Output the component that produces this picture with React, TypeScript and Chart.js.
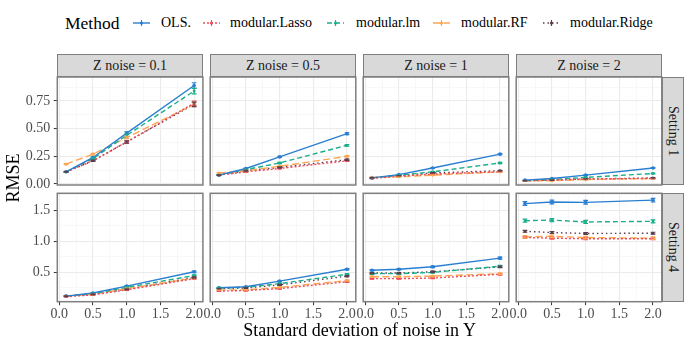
import React, { useEffect, useRef } from 'react';
import { Chart, registerables } from 'chart.js';
Chart.register(...registerables);

const FONT = '"Liberation Serif", "DejaVu Serif", serif';

// ---------- data ----------
const xValues = [0.1, 0.5, 1.0, 2.0];
const zNoiseLabels = ['Z noise = 0.1', 'Z noise = 0.5', 'Z noise = 1', 'Z noise = 2'];
const settingLabels = ['Setting 1', 'Setting 4'];
const methodNames = ['OLS.', 'modular.Lasso', 'modular.lm', 'modular.RF', 'modular.Ridge'];
const xTickLabels = ['0.0', '0.5', '1.0', '1.5', '2.0'];
const yTickLabelsRow1 = ['0.00', '0.25', '0.50', '0.75'];
const yTickLabelsRow2 = ['0.5', '1.0', '1.5'];

// RMSE values: [setting][zNoise][x]
const rmseOLS = [
  [[0.11, 0.24, 0.46, 0.89], [0.08, 0.14, 0.245, 0.455], [0.055, 0.085, 0.145, 0.27], [0.035, 0.05, 0.08, 0.145]],
  [[0.12, 0.17, 0.28, 0.51], [0.255, 0.27, 0.36, 0.55], [0.535, 0.55, 0.59, 0.73], [1.605, 1.63, 1.625, 1.66]],
];
const rmseLasso = [
  [[0.11, 0.21, 0.38, 0.73], [0.08, 0.11, 0.14, 0.21], [0.05, 0.07, 0.09, 0.11], [0.03, 0.035, 0.045, 0.05]],
  [[0.11, 0.14, 0.22, 0.40], [0.20, 0.21, 0.24, 0.35], [0.40, 0.40, 0.41, 0.47], [1.06, 1.05, 1.04, 1.04]],
];
const rmseLm = [
  [[0.11, 0.23, 0.44, 0.84], [0.08, 0.13, 0.19, 0.35], [0.055, 0.08, 0.11, 0.19], [0.03, 0.04, 0.06, 0.095]],
  [[0.12, 0.16, 0.26, 0.45], [0.25, 0.26, 0.32, 0.47], [0.48, 0.48, 0.50, 0.60], [1.33, 1.34, 1.31, 1.32]],
];
const rmseRF = [
  [[0.18, 0.27, 0.42, 0.72], [0.10, 0.12, 0.16, 0.25], [0.06, 0.065, 0.08, 0.11], [0.03, 0.03, 0.04, 0.05]],
  [[0.12, 0.15, 0.24, 0.41], [0.22, 0.22, 0.26, 0.37], [0.43, 0.43, 0.44, 0.48], [1.07, 1.08, 1.06, 1.05]],
];
const rmseRidge = [
  [[0.11, 0.21, 0.38, 0.72], [0.08, 0.12, 0.15, 0.22], [0.055, 0.075, 0.10, 0.12], [0.03, 0.035, 0.045, 0.055]],
  [[0.12, 0.15, 0.23, 0.42], [0.24, 0.25, 0.30, 0.44], [0.49, 0.49, 0.51, 0.59], [1.16, 1.14, 1.125, 1.13]],
];

// error bar half-widths: [setting][zNoise][x]
const errOLS = [
  [[0.003, 0.006, 0.012, 0.025], [0.002, 0.003, 0.005, 0.008], [0.002, 0.003, 0.004, 0.005], [0.001, 0.002, 0.003, 0.004]],
  [[0.004, 0.005, 0.008, 0.012], [0.006, 0.006, 0.008, 0.01], [0.01, 0.01, 0.012, 0.015], [0.03, 0.03, 0.03, 0.03]],
];
const errLasso = [
  [[0.003, 0.005, 0.01, 0.02], [0.002, 0.003, 0.004, 0.006], [0.002, 0.002, 0.003, 0.004], [0.001, 0.002, 0.002, 0.003]],
  [[0.004, 0.005, 0.007, 0.01], [0.005, 0.005, 0.007, 0.009], [0.009, 0.009, 0.01, 0.012], [0.015, 0.015, 0.015, 0.015]],
];
const errLm = [
  [[0.003, 0.006, 0.012, 0.025], [0.002, 0.003, 0.005, 0.007], [0.002, 0.002, 0.003, 0.005], [0.001, 0.002, 0.003, 0.004]],
  [[0.004, 0.005, 0.008, 0.011], [0.006, 0.006, 0.008, 0.01], [0.01, 0.01, 0.011, 0.014], [0.025, 0.025, 0.025, 0.025]],
];
const errRF = [
  [[0.004, 0.006, 0.01, 0.02], [0.002, 0.003, 0.004, 0.006], [0.002, 0.002, 0.003, 0.004], [0.001, 0.002, 0.002, 0.003]],
  [[0.004, 0.005, 0.007, 0.01], [0.005, 0.005, 0.007, 0.009], [0.009, 0.009, 0.01, 0.012], [0.02, 0.02, 0.02, 0.02]],
];
const errRidge = [
  [[0.003, 0.005, 0.01, 0.02], [0.002, 0.003, 0.004, 0.006], [0.002, 0.002, 0.003, 0.004], [0.001, 0.002, 0.002, 0.003]],
  [[0.004, 0.005, 0.007, 0.01], [0.005, 0.005, 0.007, 0.009], [0.009, 0.009, 0.01, 0.012], [0.015, 0.015, 0.015, 0.015]],
];

const methodValues = [rmseOLS, rmseLasso, rmseLm, rmseRF, rmseRidge];
const methodErrors = [errOLS, errLasso, errLm, errRF, errRidge];

// ---------- styles ----------
const methodColors = ['#2A7FD0', '#EE4D5E', '#1AAE8A', '#FCA652', '#5B3E4E'];
const methodDash: number[][] = [[], [2, 2], [5, 3], [7, 3.5], [1.5, 3]];
const methodShapes = ['circle', 'triangle', 'rect', 'rectRot', 'rect'];

// panel geometry (pixels in the 692x346 page)
const W = 692;
const H = 346;
const colLeft = [57.3, 210.2, 363.2, 516.2];
const colWidth = 145.6;
const rowTop = [77, 193.3];
const rowHeight = [108, 108.4];
const stripTop = 54;
const stripH = 23;
const rightStripW = 22.5;
const xAxisH = 30;

const xRange = { min: -0.03, max: 2.13 };
const yRanges = [
  { min: -0.009, max: 0.967 },
  { min: 0.03, max: 1.77 },
];
const xMajors = [0, 0.5, 1, 1.5, 2];
const xMinors = [0.25, 0.75, 1.25, 1.75];
const yMajorsRows = [[0, 0.25, 0.5, 0.75], [0.5, 1.0, 1.5]];
const yMinorsRows = [[0.125, 0.375, 0.625, 0.875], [0.25, 0.75, 1.25, 1.75]];
const yLabelsRows = [yTickLabelsRow1, yTickLabelsRow2];

const BORDER = '#7F7F7F';

const errorBarPlugin = {
  id: 'errbars',
  afterDatasetsDraw(chart: any) {
    const ctx = chart.ctx;
    const xs = chart.scales.x;
    const ys = chart.scales.y;
    const area = chart.chartArea;
    ctx.save();
    ctx.beginPath();
    ctx.rect(area.left, area.top, area.right - area.left, area.bottom - area.top);
    ctx.clip();
    chart.data.datasets.forEach((ds: any) => {
      ctx.strokeStyle = ds.borderColor;
      ctx.lineWidth = 1.2;
      ctx.setLineDash([]);
      ds.data.forEach((p: any, i: number) => {
        const e = ds.errors[i];
        const px = xs.getPixelForValue(p.x);
        const x0 = xs.getPixelForValue(p.x - 0.035);
        const x1 = xs.getPixelForValue(p.x + 0.035);
        const yt = ys.getPixelForValue(p.y + e);
        const yb = ys.getPixelForValue(p.y - e);
        ctx.beginPath();
        ctx.moveTo(px, yt);
        ctx.lineTo(px, yb);
        ctx.moveTo(x0, yt);
        ctx.lineTo(x1, yt);
        ctx.moveTo(x0, yb);
        ctx.lineTo(x1, yb);
        ctx.stroke();
      });
    });
    ctx.restore();
  },
  afterDraw(chart: any) {
    const ctx = chart.ctx;
    const a = chart.chartArea;
    ctx.save();
    ctx.strokeStyle = BORDER;
    ctx.lineWidth = 1.5;
    ctx.strokeRect(a.left, a.top, a.right - a.left, a.bottom - a.top);
    ctx.restore();
  },
};

function Panel({ row, col }: { row: number; col: number }) {
  const ref = useRef<HTMLCanvasElement>(null);
  useEffect(() => {
    const showY = col === 0;
    const showX = row === 1;
    const L = colLeft[col];
    const R = colLeft[col] + colWidth;
    const T = rowTop[row];
    const B = rowTop[row] + rowHeight[row];
    const yMajors = yMajorsRows[row];
    const yMinors = yMinorsRows[row];
    const yLabels = yLabelsRows[row];

    const datasets = methodNames.map((name, m) => ({
      label: name,
      data: xValues.map((x, i) => ({ x, y: methodValues[m][row][col][i] })),
      errors: methodErrors[m][row][col],
      borderColor: methodColors[m],
      backgroundColor: methodColors[m],
      borderWidth: 1.4,
      borderDash: methodDash[m],
      pointRadius: 1.8,
      pointStyle: methodShapes[m],
      pointBorderWidth: 0,
      pointBackgroundColor: methodColors[m],
      tension: 0,
      fill: false,
    }));

    const gridColor = (majors: number[]) => (c: any) =>
      c.tick && majors.includes(c.tick.value) ? '#EBEBEB' : '#F3F3F3';
    const gridWidth = (majors: number[]) => (c: any) =>
      c.tick && majors.includes(c.tick.value) ? 1.1 : 0.6;
    const tickColor = (majors: number[]) => (c: any) =>
      c.tick && majors.includes(c.tick.value) ? '#333333' : 'rgba(0,0,0,0)';

    const chart = new Chart(ref.current as HTMLCanvasElement, {
      type: 'line',
      data: { datasets } as any,
      plugins: [errorBarPlugin],
      options: {
        animation: false,
        responsive: false,
        devicePixelRatio: 1,
        events: [],
        layout: {
          padding: {
            left: showY ? 0 : L,
            right: W - R,
            top: T,
            bottom: showX ? H - B - xAxisH : H - B,
          },
        },
        plugins: { legend: { display: false }, tooltip: { enabled: false }, title: { display: false } },
        scales: {
          x: {
            type: 'linear',
            min: xRange.min,
            max: xRange.max,
            afterBuildTicks: (s: any) => {
              s.ticks = [...xMajors, ...xMinors].sort((a, b) => a - b).map((v) => ({ value: v }));
            },
            afterFit: (s: any) => {
              s.height = showX ? xAxisH : 0;
            },
            border: { display: false },
            grid: {
              color: gridColor(xMajors),
              lineWidth: gridWidth(xMajors),
              drawTicks: showX,
              tickLength: 3.5,
              tickColor: tickColor(xMajors),
              tickWidth: 1,
            },
            ticks: {
              display: showX,
              autoSkip: false,
              maxRotation: 0,
              padding: 1,
              color: '#4D4D4D',
              font: { family: FONT, size: 14 },
              callback: (v: any) => {
                const k = xMajors.indexOf(v);
                return k >= 0 ? xTickLabels[k] : '';
              },
            },
          },
          y: {
            type: 'linear',
            min: yRanges[row].min,
            max: yRanges[row].max,
            afterBuildTicks: (s: any) => {
              s.ticks = [...yMajors, ...yMinors].sort((a, b) => a - b).map((v) => ({ value: v }));
            },
            afterFit: (s: any) => {
              s.width = showY ? L : 0;
            },
            border: { display: false },
            grid: {
              color: gridColor(yMajors),
              lineWidth: gridWidth(yMajors),
              drawTicks: showY,
              tickLength: 3.5,
              tickColor: tickColor(yMajors),
              tickWidth: 1,
            },
            ticks: {
              display: showY,
              autoSkip: false,
              padding: 3.5,
              color: '#4D4D4D',
              font: { family: FONT, size: 14 },
              callback: (v: any) => {
                const k = yMajors.indexOf(v);
                return k >= 0 ? yLabels[k] : '';
              },
            },
          },
        },
      } as any,
    });
    return () => chart.destroy();
  }, [row, col]);
  return (
    <canvas
      ref={ref}
      width={W}
      height={H}
      style={{ position: 'absolute', left: 0, top: 0, width: W, height: H }}
    />
  );
}

const legendLayout = { titleX: 65, keyX: [133, 203, 327, 433, 543], textX: [161, 230, 356, 461, 570], y: 23 };

function LegendKey({ m }: { m: number }) {
  const c = methodColors[m];
  return (
    <svg width={17} height={12} style={{ position: 'absolute', left: legendLayout.keyX[m], top: legendLayout.y - 6 }}>
      <line x1={0} y1={6} x2={17} y2={6} stroke={c} strokeWidth={1.4} strokeDasharray={methodDash[m].join(' ')} />
      <line x1={8.5} y1={3} x2={8.5} y2={9} stroke={c} strokeWidth={1.1} />
      <circle cx={8.5} cy={6} r={1.6} fill={c} />
    </svg>
  );
}

export default function App() {
  const panels: React.ReactNode[] = [];
  for (let r = 0; r < 2; r++) for (let c = 0; c < 4; c++) panels.push(<Panel key={`${r}-${c}`} row={r} col={c} />);
  const txt: React.CSSProperties = { position: 'absolute', whiteSpace: 'nowrap', fontFamily: FONT };
  const panelsLeft = colLeft[0];
  const panelsRight = colLeft[3] + colWidth;
  return (
    <div style={{ position: 'fixed', left: 0, top: 0, width: W, height: H, background: '#fff', overflow: 'hidden' }}>
      {/* legend */}
      <div style={{ ...txt, left: legendLayout.titleX, top: legendLayout.y - 11, fontSize: 17.5, lineHeight: '22px', color: '#000' }}>Method</div>
      {methodNames.map((n, m) => (
        <React.Fragment key={n}>
          <LegendKey m={m} />
          <div style={{ ...txt, left: legendLayout.textX[m], top: legendLayout.y - 9, fontSize: 14, lineHeight: '18px', color: '#000' }}>{n}</div>
        </React.Fragment>
      ))}
      {/* top strips */}
      {zNoiseLabels.map((lab, c) => (
        <div
          key={lab}
          style={{
            position: 'absolute', left: colLeft[c], top: stripTop, width: colWidth, height: stripH,
            boxSizing: 'border-box', background: '#D9D9D9', border: `1.5px solid ${BORDER}`,
            display: 'flex', alignItems: 'center', justifyContent: 'center',
            fontFamily: FONT, fontSize: 14, color: '#1A1A1A', whiteSpace: 'nowrap',
          }}
        >
          {lab}
        </div>
      ))}
      {/* right strips */}
      {settingLabels.map((lab, r) => (
        <div
          key={lab}
          style={{
            position: 'absolute', left: panelsRight, top: rowTop[r], width: rightStripW, height: rowHeight[r],
            boxSizing: 'border-box', background: '#D9D9D9', border: `1.5px solid ${BORDER}`,
            display: 'flex', alignItems: 'center', justifyContent: 'center',
            fontFamily: FONT, fontSize: 14, color: '#1A1A1A', whiteSpace: 'nowrap',
          }}
        >
          <span style={{ writingMode: 'vertical-rl' }}>{lab}</span>
        </div>
      ))}
      {panels}
      {/* axis titles */}
      <div style={{ ...txt, left: panelsLeft, width: panelsRight - panelsLeft, top: 319, textAlign: 'center', fontSize: 18, lineHeight: '22px', color: '#000' }}>
        Standard deviation of noise in Y
      </div>
      <div
        style={{
          ...txt, left: 13 - 60, top: (stripTop + rowTop[1] + rowHeight[1]) / 2 - 11, width: 120, textAlign: 'center',
          fontSize: 18, lineHeight: '22px', color: '#000', transform: 'rotate(-90deg)',
        }}
      >
        RMSE
      </div>
    </div>
  );
}
